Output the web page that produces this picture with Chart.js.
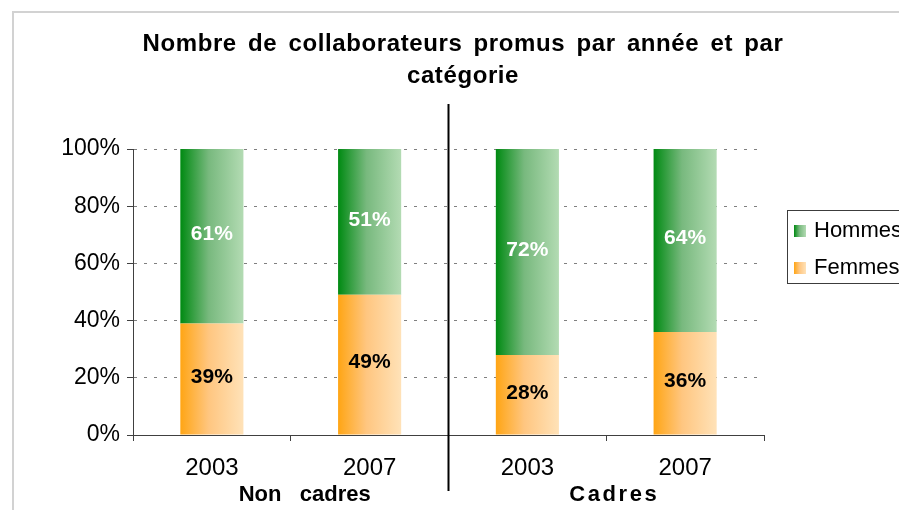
<!DOCTYPE html>
<html>
<head>
<meta charset="utf-8">
<script src="https://cdn.jsdelivr.net/npm/chart.js@4/dist/chart.umd.min.js"></script>
<style>
  html, body { margin: 0; padding: 0; background: #fff; overflow: hidden; }
  #wrap { position: relative; width: 899px; height: 510px; }
</style>
</head>
<body>
<div id="wrap"><canvas id="c"></canvas></div>
<script>
// ---- data ----
const categories = ['2003', '2007', '2003', '2007'];
const groups = ['Non   cadres', 'Cadres'];
const femmes = [39, 49, 28, 36];
const hommes = [61, 51, 72, 64];
const seriesNames = ['Femmes', 'Hommes'];
const yTicks = [0, 20, 40, 60, 80, 100];
const titleLines = ['Nombre de collaborateurs promus par année et par', 'catégorie'];

const FONT = '"Liberation Sans", Arial, sans-serif';
const greenStops = [[0, '#008a12'], [0.45, '#78b97e'], [1, '#b3dbb3']];
const orangeStops = [[0, '#ffa514'], [0.45, '#ffc680'], [1, '#ffe2b8']];

function barGradient(ctx, stops) {
  const chart = ctx.chart;
  const xs = chart.scales && chart.scales.x;
  if (!xs || ctx.type !== 'data' || !isFinite(xs.width)) return stops[0][1];
  const cx = xs.getPixelForValue(ctx.dataIndex);
  const w = (xs.width / categories.length) * 0.4;
  const g = chart.ctx.createLinearGradient(cx - w / 2, 0, cx + w / 2, 0);
  stops.forEach(([o, c]) => g.addColorStop(o, c));
  return g;
}

function spacing(ctx, ls, ws) {
  try { ctx.letterSpacing = ls + 'px'; ctx.wordSpacing = ws + 'px'; } catch (e) {}
}

const decor = {
  id: 'decor',
  afterDraw(chart) {
    const ctx = chart.ctx;
    const xs = chart.scales.x;
    ctx.save();
    // outer frame
    ctx.strokeStyle = '#d2d2d2';
    ctx.lineWidth = 2;
    ctx.beginPath();
    ctx.moveTo(13, 510);
    ctx.lineTo(13, 12);
    ctx.lineTo(899, 12);
    ctx.stroke();

    // title
    ctx.fillStyle = '#000';
    ctx.font = 'bold 24px ' + FONT;
    ctx.textAlign = 'center';
    ctx.textBaseline = 'alphabetic';
    spacing(ctx, 0.6, 4);
    ctx.fillText(titleLines[0], 463, 51);
    ctx.fillText(titleLines[1], 463, 83);
    spacing(ctx, 0, 0);

    // data labels
    ctx.font = 'bold 21px ' + FONT;
    ctx.textBaseline = 'middle';
    chart.data.datasets.forEach((ds, di) => {
      const meta = chart.getDatasetMeta(di);
      meta.data.forEach((el, i) => {
        const y = (el.y + el.base) / 2 - 2;
        ctx.fillStyle = di === 0 ? '#000' : '#fff';
        ctx.fillText(ds.data[i] + '%', el.x, y);
      });
    });

    // separator line between groups
    const sepX = (xs.getPixelForValue(1) + xs.getPixelForValue(2)) / 2;
    ctx.strokeStyle = '#000';
    ctx.lineWidth = 2;
    ctx.beginPath();
    ctx.moveTo(sepX, 104);
    ctx.lineTo(sepX, 491);
    ctx.stroke();

    // group labels
    ctx.fillStyle = '#000';
    ctx.font = 'bold 22px ' + FONT;
    ctx.textBaseline = 'middle';
    const g1 = (xs.getPixelForValue(0) + xs.getPixelForValue(1)) / 2 + 14;
    const g2 = (xs.getPixelForValue(2) + xs.getPixelForValue(3)) / 2 + 8;
    ctx.fillText(groups[0], g1, 495);
    spacing(ctx, 2.6, 0);
    ctx.fillText(groups[1], g2, 495);
    spacing(ctx, 0, 0);

    // legend
    ctx.strokeStyle = '#3c3c3c';
    ctx.lineWidth = 1;
    ctx.strokeRect(787.5, 210.5, 140, 73);
    const items = [[seriesNames[1], greenStops, 231], [seriesNames[0], orangeStops, 268]];
    items.forEach(([name, stops, cy]) => {
      const g = ctx.createLinearGradient(794, 0, 806, 0);
      stops.forEach(([o, c]) => g.addColorStop(o, c));
      ctx.fillStyle = g;
      ctx.fillRect(794, cy - 6, 12, 12);
      ctx.fillStyle = '#000';
      ctx.font = '22px ' + FONT;
      ctx.textAlign = 'left';
      ctx.textBaseline = 'middle';
      ctx.fillText(name, 814, cy);
    });
    ctx.restore();
  }
};

new Chart(document.getElementById('c'), {
  type: 'bar',
  data: {
    labels: categories,
    datasets: [
      { label: seriesNames[0], data: femmes, backgroundColor: (c) => barGradient(c, orangeStops), borderWidth: 0 },
      { label: seriesNames[1], data: hommes, backgroundColor: (c) => barGradient(c, greenStops), borderWidth: 0 }
    ]
  },
  options: {
    responsive: true,
    maintainAspectRatio: false,
    animation: false,
    devicePixelRatio: 1,
    categoryPercentage: 0.4,
    barPercentage: 1,
    layout: { padding: { left: 0, top: 149, right: 135, bottom: 0 } },
    plugins: { legend: { display: false }, title: { display: false }, tooltip: { enabled: false } },
    scales: {
      x: {
        stacked: true,
        offset: true,
        grid: { display: true, offset: true, drawOnChartArea: false, drawTicks: true, tickLength: 6, color: '#404040', tickColor: '#404040' },
        border: { display: true, color: '#404040', width: 1 },
        ticks: { color: '#000', font: { family: FONT, size: 24 }, padding: 13, maxRotation: 0 },
        afterFit(s) { s.height = 75; }
      },
      y: {
        stacked: true,
        min: 0,
        max: 100,
        afterBuildTicks(s) { s.ticks = yTicks.map(v => ({ value: v })); },
        grid: { color: '#808080', lineWidth: 1, drawTicks: true, tickLength: 6, tickColor: '#404040' },
        border: { display: true, color: '#404040', width: 1, dash: [3, 7] },
        ticks: { color: '#000', font: { family: FONT, size: 23 }, padding: 7, callback: v => v + '%' },
        afterFit(s) { s.width = 133; }
      }
    }
  },
  plugins: [decor]
});
</script>
</body>
</html>
